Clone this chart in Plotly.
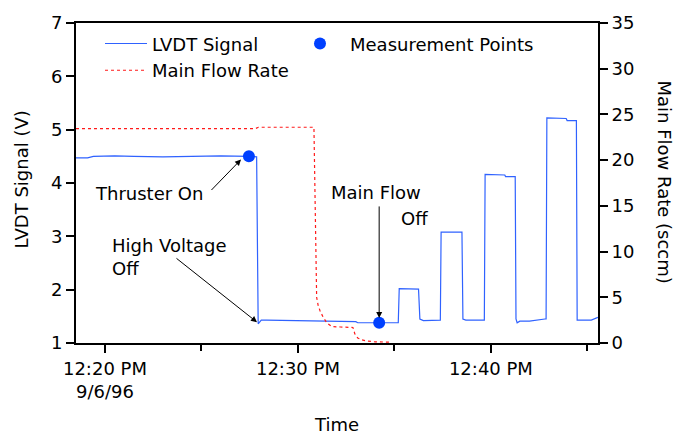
import pandas as pd
import plotly.graph_objects as go

BASE = "1996-09-06 12:20:00"

# LVDT signal: minutes after 12:20, volts
lvdt_min = [-1.5, -0.9, -0.6, 0.5, 1.5, 3.0, 4.5, 6.0, 7.46, 7.80, 7.86, 7.94, 8.10, 8.38,
            10.0, 12.0, 13.0, 13.1, 14.21, 15.2, 15.25, 16.25, 16.32, 16.5, 17.38, 17.42,
            18.50, 18.55, 18.7, 19.66, 19.70, 20.30, 20.72, 20.76, 21.26, 21.30, 21.36,
            21.5, 22.0, 22.8, 22.86, 22.90, 23.5, 23.9, 23.95, 24.43, 24.47, 25.2, 25.55]
lvdt_v = [4.47, 4.47, 4.50, 4.51, 4.50, 4.49, 4.50, 4.51, 4.50, 4.50, 4.49, 1.36, 1.43, 1.43,
          1.42, 1.41, 1.40, 1.38, 1.38, 1.38, 2.02, 2.01, 1.45, 1.42, 1.43, 3.08,
          3.08, 1.45, 1.43, 1.43, 4.16, 4.16, 4.15, 4.12, 4.12, 1.45, 1.38,
          1.41, 1.41, 1.45, 1.45, 5.22, 5.22, 5.21, 5.17, 5.17, 1.43, 1.43, 1.48]

# Main flow rate: minutes after 12:20, sccm
flow_min = [-1.5, 7.8, 7.95, 10.83, 10.97, 11.05, 11.15, 11.30, 11.5, 11.75, 12.2, 12.85,
            12.95, 13.1, 13.3, 13.56, 14.0, 14.8]
flow_sccm = [23.45, 23.45, 23.6, 23.6, 5.0, 4.1, 3.5, 2.85, 2.2, 1.8, 1.75, 1.7,
             1.0, 0.55, 0.35, 0.22, 0.12, 0.1]

# Measurement points
meas_min = [7.46, 14.21]
meas_v = [4.50, 1.38]

x_tick_min = [0, 10, 20]
x_tick_text = ["12:20 PM<br>9/6/96", "12:30 PM", "12:40 PM"]


def to_time(mins):
    return list(pd.Timestamp(BASE) + pd.to_timedelta(mins, unit="m"))


FONT = "DejaVu Sans"
FS = 18
fig = go.Figure()
fig.add_trace(go.Scatter(x=to_time(lvdt_min), y=lvdt_v, mode="lines", name="LVDT Signal",
                         line=dict(color="#2f62ff", width=1.2), legend="legend"))
fig.add_trace(go.Scatter(x=to_time(flow_min), y=flow_sccm, mode="lines", name="Main Flow Rate",
                         line=dict(color="#ff1a1a", width=1.2, dash="dot"), yaxis="y2",
                         legend="legend2"))
fig.add_trace(go.Scatter(x=to_time(meas_min), y=meas_v, mode="markers", name="Measurement Points",
                         marker=dict(color="#0040ff", size=12), legend="legend3"))

L, R, T, B = 76, 598, 20, 343
W, H = 677, 436


def px(xp):
    return (xp - L) / (R - L)


def py(yp):
    return 1 - (yp - T) / (B - T)


def tmin(m):
    return pd.Timestamp(BASE) + pd.Timedelta(minutes=m)


annots = []
txt = dict(font=dict(family=FONT, size=FS, color="black"), showarrow=False,
           xref="paper", yref="paper")
annots.append(dict(text="Thruster On", x=px(93), y=py(192), xanchor="left", yanchor="middle", **txt))
annots.append(dict(text="High Voltage<br>Off", x=px(110), y=py(256), xanchor="left",
                   yanchor="middle", align="left", **txt))
annots.append(dict(text="Main Flow", x=px(329), y=py(191), xanchor="left", yanchor="middle", **txt))
annots.append(dict(text="Off", x=px(399), y=py(217), xanchor="left", yanchor="middle", **txt))
annots.append(dict(text="Time", x=px(336), y=py(425), xanchor="center", yanchor="middle", **txt))
annots.append(dict(text="LVDT Signal (V)", x=px(22), y=py(178), xanchor="center", yanchor="middle",
                   textangle=-90, **txt))
annots.append(dict(text="Main Flow Rate (sccm)", x=px(664), y=py(180), xanchor="center",
                   yanchor="middle", textangle=90, **txt))

arr = dict(text="", showarrow=True, arrowhead=2, arrowsize=1.2, arrowwidth=1, arrowcolor="black",
           xref="x", yref="y")
annots.append(dict(x=tmin(7.05), y=4.44, ax=-31, ay=32, **arr))
annots.append(dict(x=tmin(7.88), y=1.39, ax=-82, ay=-65, **arr))
annots.append(dict(x=tmin(14.21), y=1.47, ax=0, ay=-113, **arr))

legfont = dict(family=FONT, size=FS, color="black")
fig.update_layout(
    width=W, height=H,
    margin=dict(l=L, r=W - R, t=T, b=H - B),
    paper_bgcolor="white", plot_bgcolor="white",
    font=dict(family=FONT, size=FS, color="black"),
    xaxis=dict(type="date", range=[tmin(-1.5), tmin(25.55)],
               tickvals=to_time(x_tick_min), ticktext=x_tick_text,
               ticks="outside", ticklen=8, tickwidth=1.5, tickcolor="black",
               minor=dict(tickvals=to_time([5, 15, 25]), ticks="outside", ticklen=6,
                          tickwidth=1.5, tickcolor="black"),
               showline=True, linecolor="black", linewidth=2, mirror=True,
               showgrid=False, zeroline=False),
    yaxis=dict(range=[1, 7], dtick=1, ticks="outside", ticklen=8, tickwidth=1.5,
               tickcolor="black", showline=True, linecolor="black", linewidth=2,
               showgrid=False, zeroline=False),
    yaxis2=dict(range=[0, 35], dtick=5, overlaying="y", side="right", ticks="outside",
                ticklen=8, tickwidth=1.5, tickcolor="black", showline=True,
                linecolor="black", linewidth=2, showgrid=False, zeroline=False),
    legend=dict(x=px(100), y=py(41), xanchor="left", yanchor="middle", font=legfont,
                bgcolor="rgba(0,0,0,0)", itemwidth=42),
    legend2=dict(x=px(100), y=py(68), xanchor="left", yanchor="middle", font=legfont,
                 bgcolor="rgba(0,0,0,0)", itemwidth=42),
    legend3=dict(x=px(290), y=py(41), xanchor="left", yanchor="middle", font=legfont,
                 bgcolor="rgba(0,0,0,0)", itemwidth=50),
    annotations=annots,
    showlegend=True,
)

fig.write_html("out.html", config={"displayModeBar": False},
               post_script="document.body.style.margin='0';document.body.style.padding='0';"
                           "document.documentElement.style.overflow='hidden';")
